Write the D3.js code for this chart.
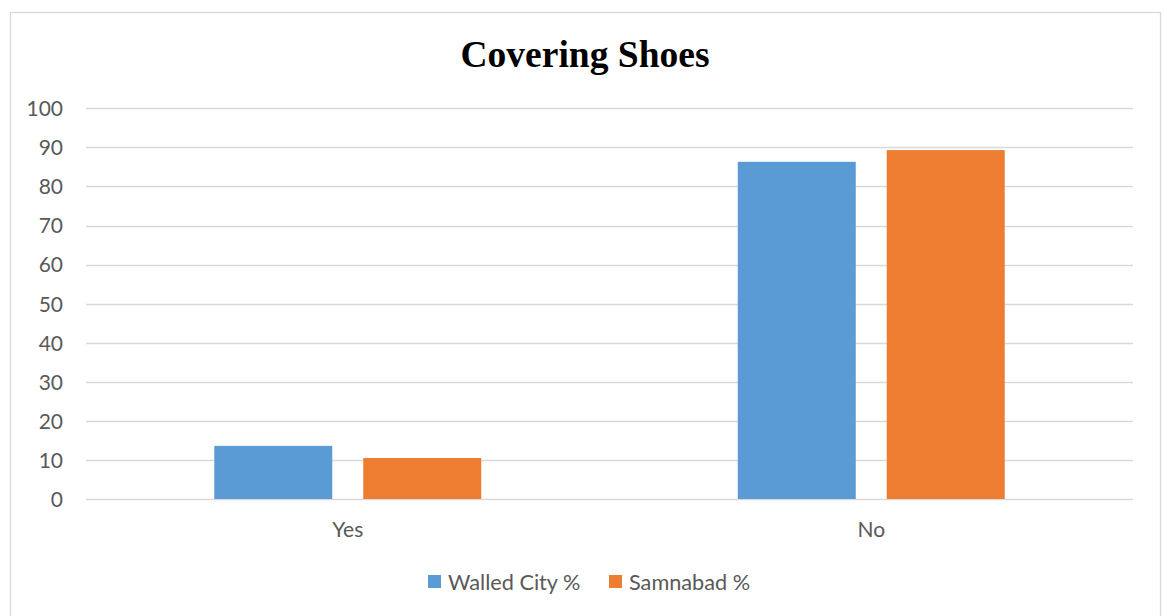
<!DOCTYPE html>
<html>
<head>
<meta charset="utf-8">
<script src="https://cdnjs.cloudflare.com/ajax/libs/d3/7.8.5/d3.min.js"></script>
<style>
  html, body { margin: 0; padding: 0; background: #fff; }
  svg { display: block; }
</style>
</head>
<body>
<svg id="chart" width="1165" height="616"></svg>
<script>
// Chart data
const categories = ["Yes", "No"];
const seriesNames = ["Walled City %", "Samnabad %"];
const walledCity = [13.6, 86.3];
const samnabad = [10.5, 89.3];
const yTicks = [0, 10, 20, 30, 40, 50, 60, 70, 80, 90, 100];
const seriesColors = ["#5B9BD5", "#ED7D31"];

const seriesValues = [walledCity, samnabad];
const rows = categories.map((c, i) => ({
  category: c,
  values: seriesNames.map((s, j) => ({ series: s, value: seriesValues[j][i], color: seriesColors[j] }))
}));

const svg = d3.select("#chart");
const plot = { left: 86, right: 1133, top: 108.3, bottom: 499 };
const labelFont = "Lato, 'Liberation Sans', sans-serif";
const labelSize = 21;

// Chart frame
svg.append("rect")
  .attr("x", 10.5).attr("y", 12.5)
  .attr("width", 1150).attr("height", 620)
  .attr("fill", "#fff").attr("stroke", "#d9d9d9").attr("stroke-width", 1.3);

// Title
svg.append("text")
  .attr("x", 585).attr("y", 67)
  .attr("text-anchor", "middle")
  .attr("font-family", "'Liberation Serif', 'Times New Roman', serif")
  .attr("font-weight", "bold")
  .attr("font-size", 37.5)
  .attr("fill", "#000")
  .text("Covering Shoes");

// Scales
const y = d3.scaleLinear().domain([0, 100]).range([plot.bottom, plot.top]);
const x0 = d3.scaleBand().domain(categories).range([plot.left, plot.right]).padding(0);
const x1 = d3.scaleBand().domain(seriesNames)
  .range([0, x0.bandwidth()])
  .paddingInner(0.208)
  .paddingOuter(0.861);

// Gridlines
svg.append("g")
  .selectAll("line")
  .data(yTicks)
  .join("line")
  .attr("x1", plot.left).attr("x2", plot.right)
  .attr("y1", d => Math.round(y(d)) + 0.5)
  .attr("y2", d => Math.round(y(d)) + 0.5)
  .attr("stroke", "#d9d9d9").attr("stroke-width", 1.3);

// Y axis labels
const yAxis = d3.axisLeft(y).tickValues(yTicks).tickSize(0).tickPadding(0);
const gy = svg.append("g").attr("transform", `translate(${63},0)`).call(yAxis);
gy.select(".domain").remove();
gy.selectAll("text")
  .attr("font-family", labelFont)
  .attr("font-size", labelSize)
  .attr("fill", "#595959")
  .attr("dy", "0.35em");

// Bars
const groups = svg.append("g")
  .selectAll("g")
  .data(rows)
  .join("g")
  .attr("transform", d => `translate(${x0(d.category)},0)`);

groups.selectAll("rect")
  .data(d => d.values)
  .join("rect")
  .attr("x", d => x1(d.series))
  .attr("width", x1.bandwidth())
  .attr("y", d => y(d.value))
  .attr("height", d => y(0) - y(d.value))
  .attr("fill", d => d.color);

// X axis labels
const xAxis = d3.axisBottom(x0).tickSize(0).tickPadding(0);
const gx = svg.append("g").attr("transform", `translate(0,${plot.bottom})`).call(xAxis);
gx.select(".domain").remove();
gx.selectAll("text")
  .attr("font-family", labelFont)
  .attr("font-size", labelSize)
  .attr("fill", "#595959")
  .attr("y", 38)
  .attr("dy", 0);

// Legend
const legendItems = [
  { name: seriesNames[0], color: seriesColors[0], x: 428 },
  { name: seriesNames[1], color: seriesColors[1], x: 609 }
];
const lg = svg.append("g");
const li = lg.selectAll("g").data(legendItems).join("g")
  .attr("transform", d => `translate(${d.x},0)`);
li.append("rect")
  .attr("x", 0).attr("y", 575)
  .attr("width", 13).attr("height", 13)
  .attr("fill", d => d.color);
li.append("text")
  .attr("x", 20).attr("y", 590)
  .attr("font-family", labelFont)
  .attr("font-size", 21.7)
  .attr("fill", "#595959")
  .text(d => d.name);
</script>
</body>
</html>
